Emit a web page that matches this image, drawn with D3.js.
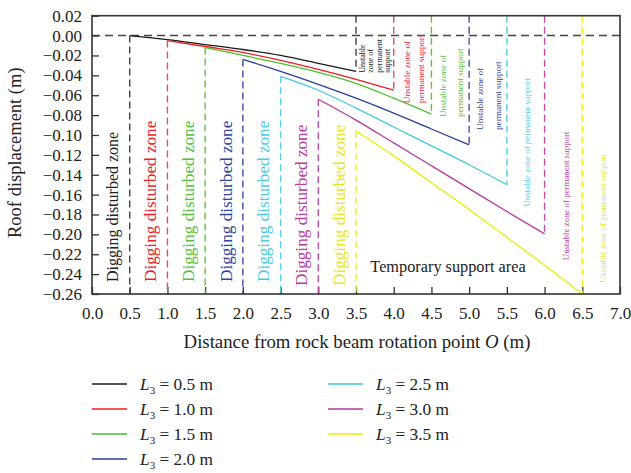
<!DOCTYPE html>
<html>
<head>
<meta charset="utf-8">
<script src="https://cdn.jsdelivr.net/npm/d3@7"></script>
<style>
  body { margin: 0; background: #fff; }
  svg, svg text { font-family: "Liberation Serif", "Times New Roman", serif; }
  .axis text { font-size: 17px; fill: #222; font-family: "Liberation Serif", "Times New Roman", serif; }
  .axis line { stroke: #333; stroke-width: 1.3px; }
</style>
</head>
<body>
<svg id="chart" width="631" height="473"></svg>
<script>
// excavation lengths L3 (m) and distance steps from the start of each curve
var l3Values = [0.5, 1.0, 1.5, 2.0, 2.5, 3.0, 3.5];
var stepOffsets = [0, 0.5, 1.0, 1.5, 2.0, 2.5, 3.0];

// roof displacement (m) read at each step
var dispL05 = [0.000, -0.004, -0.009, -0.014, -0.020, -0.028, -0.036];
var dispL10 = [-0.005, -0.011, -0.017, -0.025, -0.034, -0.044, -0.055];
var dispL15 = [-0.012, -0.020, -0.028, -0.037, -0.048, -0.063, -0.079];
var dispL20 = [-0.024, -0.036, -0.049, -0.063, -0.078, -0.094, -0.110];
var dispL25 = [-0.041, -0.055, -0.073, -0.092, -0.111, -0.130, -0.150];
var dispL30 = [-0.064, -0.085, -0.108, -0.131, -0.154, -0.177, -0.1995];
var dispL35 = [-0.096, -0.121, -0.148, -0.175, -0.203, -0.231, -0.260];

var xTickValues = [0, 0.5, 1, 1.5, 2, 2.5, 3, 3.5, 4, 4.5, 5, 5.5, 6, 6.5, 7];
var yTickValues = [0.02, 0, -0.02, -0.04, -0.06, -0.08, -0.10, -0.12, -0.14,
                   -0.16, -0.18, -0.20, -0.22, -0.24, -0.26];
var legendLabels = ["0.5", "1.0", "1.5", "2.0", "2.5", "3.0", "3.5"];

var seriesData = [dispL05, dispL10, dispL15, dispL20, dispL25, dispL30, dispL35];
var colors = ["#1a1a1a", "#ee1c25", "#4dbf2f", "#2a3f9c", "#45c9e0", "#b4399f", "#ecec00"];
var dashColors = ["#444", "#f04a50", "#5cc43c", "#3b53a8", "#55cde2", "#c04ca8", "#eeee22"];
var textColors = ["#222", "#ee1c25", "#55c03a", "#2f45a0", "#4ccbe0", "#b43c9f", "#e6e620"];

var svg = d3.select("#chart");
var margin = {top: 15.7, right: 11, bottom: 179, left: 92},
  width = +svg.attr("width") - margin.left - margin.right,
  height = +svg.attr("height") - margin.top - margin.bottom;

var x = d3.scaleLinear().domain([0, 7]).range([0, width]);
var y = d3.scaleLinear().domain([0.02, -0.26]).range([0, height]);

var g = svg.append("g")
  .attr("transform", "translate(" + margin.left + "," + margin.top + ")");

var formatY = function(d) { return d3.format(".2f")(d).replace("-", "\u2212"); };

g.append("g")
  .attr("class", "axis axis--y")
  .call(d3.axisLeft(y).tickValues(yTickValues).tickFormat(formatY)
    .tickSize(-7).tickPadding(10))
  .call(function(a) { a.select(".domain").remove(); a.attr("font-family", null); });

g.append("g")
  .attr("class", "axis axis--x")
  .attr("transform", "translate(0," + height + ")")
  .call(d3.axisBottom(x).tickValues(xTickValues).tickFormat(d3.format(".1f"))
    .tickSize(-7).tickPadding(13))
  .call(function(a) { a.select(".domain").remove(); a.attr("font-family", null); });

// zero line
g.append("line")
  .attr("x1", x(0)).attr("x2", x(7))
  .attr("y1", y(0)).attr("y2", y(0))
  .attr("stroke", "#444").attr("stroke-width", 1.5)
  .attr("stroke-dasharray", "8,5");

var line = d3.line()
  .curve(d3.curveMonotoneX)
  .x(function(d) { return x(d.x); })
  .y(function(d) { return y(d.y); });

seriesData.forEach(function(disp, i) {
  var l3 = l3Values[i];
  var pts = stepOffsets.map(function(o, j) { return {x: l3 + o, y: disp[j]}; });
  var last = pts[pts.length - 1];

  // digging disturbed zone boundary
  g.append("line")
    .attr("x1", x(l3)).attr("x2", x(l3))
    .attr("y1", y(disp[0])).attr("y2", y(-0.26))
    .attr("stroke", dashColors[i]).attr("stroke-width", 1.4)
    .attr("stroke-dasharray", "7,4");
  // permanent support boundary
  g.append("line")
    .attr("x1", x(last.x)).attr("x2", x(last.x))
    .attr("y1", y(0.02)).attr("y2", y(last.y))
    .attr("stroke", dashColors[i]).attr("stroke-width", 1.4)
    .attr("stroke-dasharray", "7,4");

  g.append("path")
    .attr("d", line(pts))
    .attr("fill", "none")
    .attr("stroke", colors[i])
    .attr("stroke-width", 1.3);

  g.append("text")
    .attr("transform", "translate(" + x(l3 - 0.23) + "," + (height - 12 + (i >= 5 ? 4 : 0)) + ") rotate(-90)")
    .attr("dy", "0.35em")
    .attr("font-size", i === 0 ? 16 : 17.2)
    .attr("fill", textColors[i])
    .text("Digging disturbed zone");
});

// unstable zone labels, placed right of each permanent support boundary
var unstableLayout = [
  {lines: ["Unstable", "zone of", "permanent", "support"], dx: [6, 14.5, 23, 31.5], bottom: -0.0375, size: 8},
  {lines: ["Unstable zone of", "permanent support"], dx: [13, 27], bottom: -0.068, size: 9.2},
  {lines: ["Unstable zone of", "permanent support"], dx: [11.5, 28], bottom: -0.082, size: 9.2},
  {lines: ["Unstable zone of", "permanent support"], dx: [11, 29], bottom: -0.095, size: 9.2},
  {lines: ["Unstable zone of permanent support"], dx: [20], bottom: -0.172, size: 8.9},
  {lines: ["Unstable zone of permanent support"], dx: [21.6], bottom: -0.226, size: 8.9},
  {lines: ["Unstable zone of permanent support"], dx: [21], bottom: -0.249, size: 8.9}
];

unstableLayout.forEach(function(u, i) {
  var bx = x(l3Values[i] + 3);
  u.lines.forEach(function(t, k) {
    g.append("text")
      .attr("transform", "translate(" + (bx + u.dx[k]) + "," + y(u.bottom) + ") rotate(-90)")
      .attr("dy", "0.35em")
      .attr("font-size", u.size)
      .attr("fill", textColors[i])
      .text(t);
  });
});

g.append("text")
  .attr("x", x(3.69)).attr("y", y(-0.2375))
  .attr("font-size", 16.3).attr("fill", "#222")
  .text("Temporary support area");

// frame
g.append("rect")
  .attr("x", 0).attr("y", 0)
  .attr("width", width).attr("height", height)
  .attr("fill", "none").attr("stroke", "#333").attr("stroke-width", 1.6);

// axis titles
svg.append("text")
  .attr("transform", "translate(21," + (margin.top + 137) + ") rotate(-90)")
  .attr("text-anchor", "middle")
  .attr("font-size", 18.5).attr("fill", "#222")
  .text("Roof displacement (m)");

var xt = svg.append("text")
  .attr("x", margin.left + width / 2 + 1).attr("y", 348)
  .attr("text-anchor", "middle")
  .attr("font-size", 18.8).attr("fill", "#222");
xt.append("tspan").text("Distance from rock beam rotation point ");
xt.append("tspan").attr("font-style", "italic").text("O");
xt.append("tspan").text(" (m)");

// legend
var legend = svg.append("g").attr("class", "legend");
l3Values.forEach(function(v, i) {
  var col = i < 4 ? 0 : 1, row = i < 4 ? i : i - 4;
  var lx = col === 0 ? 92 : 328, ly = 384 + row * 25;
  legend.append("line")
    .attr("x1", lx).attr("x2", lx + 35)
    .attr("y1", ly).attr("y2", ly)
    .attr("stroke", colors[i]).attr("stroke-width", 1.6);
  var t = legend.append("text")
    .attr("x", lx + 48).attr("y", ly + 5.5)
    .attr("font-size", 17.3).attr("fill", "#222");
  t.append("tspan").attr("font-style", "italic").text("L");
  t.append("tspan").attr("font-size", 11).attr("dy", 4).text("3");
  t.append("tspan").attr("dy", -4).text(" = " + legendLabels[i] + " m");
});
</script>
</body>
</html>
